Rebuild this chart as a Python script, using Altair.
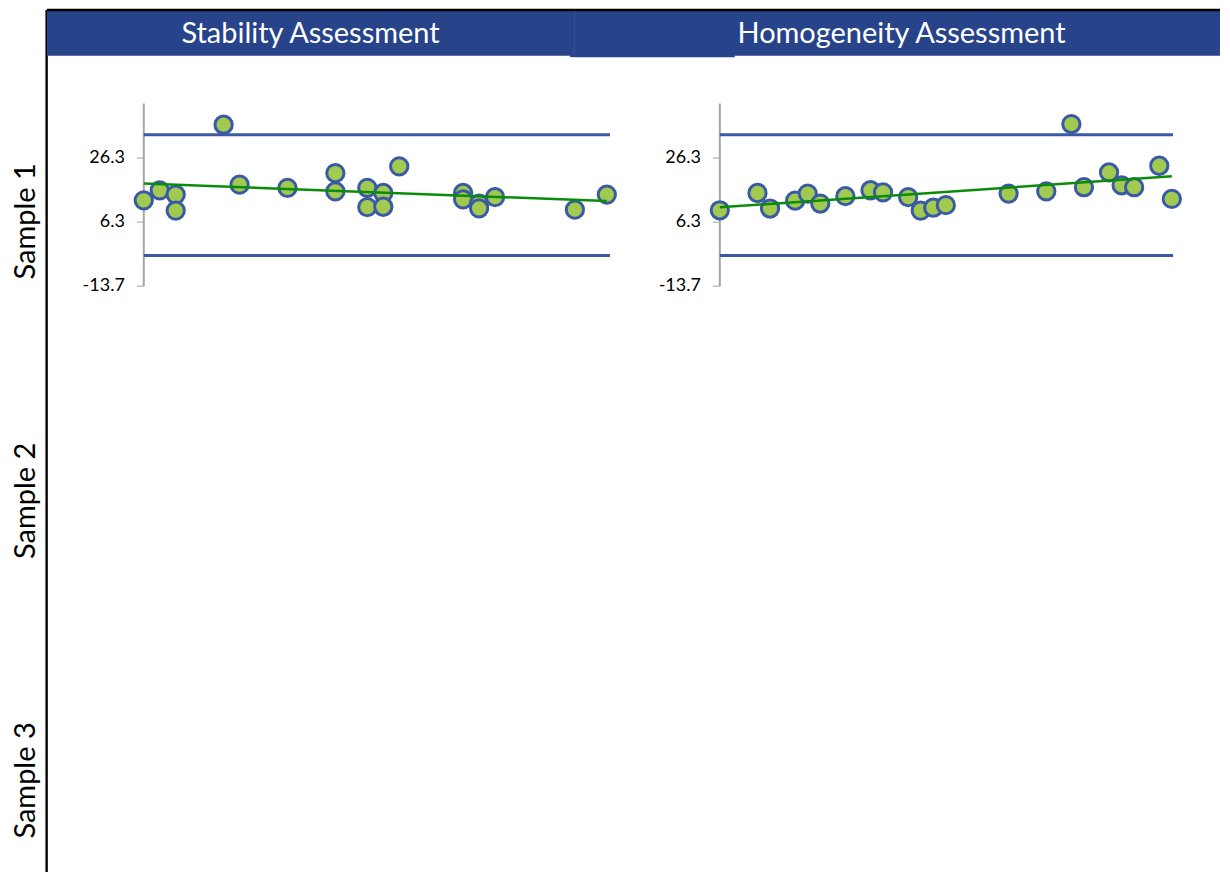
import altair as alt
import pandas as pd

# ---------------- data ----------------
panel_titles = ["Stability Assessment", "Homogeneity Assessment"]
row_labels = ["Sample 1", "Sample 2", "Sample 3"]
row_index = [1, 2, 3]

stab_x = [0, 1, 2, 2, 5, 6, 9, 12, 12, 14, 14, 15, 15, 16, 20, 20, 21, 21, 22, 27, 29]
stab_y = [13.1, 16.2, 14.9, 9.9, 36.7, 18.0, 17.0, 21.6, 15.9, 17.0, 11.0, 15.4, 11.1,
          23.7, 15.4, 13.4, 12.1, 10.6, 14.1, 10.2, 14.9]

homo_x = [0, 3, 4, 6, 7, 8, 10, 12, 13, 15, 16, 17, 18, 23, 26, 28, 29, 31, 32, 33, 35, 36]
homo_y = [10.0, 15.4, 10.55, 13.0, 15.2, 12.1, 14.4, 16.25, 15.6, 14.1, 9.9, 10.8, 11.6,
          15.2, 15.9, 36.9, 17.2, 21.8, 17.8, 17.2, 23.9, 13.55]

control_limits = [33.6, -4.1]
axis_ticks = [26.3, 6.3, -13.7]
axis_tick_labels = ["26.3", "6.3", "-13.7"]
axis_bottom = -13.7
axis_top = 43.3

# ---------------- style / layout ----------------
FONT = "Lato"
BLUE = "#27438A"
LINE_BLUE = "#3A5AA6"
PT_FILL = "#A2CA50"
PT_STROKE = "#3A5AA6"
GREEN = "#0A8C0A"
GRAY = "#A6A6A6"

H = 866
Y_RANGE = [278, 95]          # pixel range of the panel value axis


def column(title, xs, ys, xmax, width, xrange, title_x, extra_band=None):
    df = pd.DataFrame({"x": xs, "y": ys})
    xsc = alt.Scale(domain=[0, xmax], range=xrange, nice=False, zero=False)
    ysc = alt.Scale(domain=[axis_bottom, axis_top], range=Y_RANGE, nice=False, zero=False)
    one = pd.DataFrame({"k": [0]})

    layers = []
    layers.append(alt.Chart(one).mark_rect(color=BLUE).encode(
        x=alt.value(0), x2=alt.value(width), y=alt.value(2), y2=alt.value(47)))
    if extra_band is not None:
        layers.append(alt.Chart(one).mark_rect(color=BLUE).encode(
            x=alt.value(extra_band[0]), x2=alt.value(extra_band[1]),
            y=alt.value(46), y2=alt.value(48.5)))
    layers.append(alt.Chart(one).mark_rule(color="black", strokeWidth=2.4).encode(
        x=alt.value(0), x2=alt.value(width), y=alt.value(1.3)))
    layers.append(alt.Chart(pd.DataFrame({"t": [title]})).mark_text(
        color="white", font=FONT, fontSize=29, align="center", baseline="middle"
    ).encode(text="t:N", x=alt.value(title_x), y=alt.value(25)))

    layers.append(alt.Chart(pd.DataFrame({"x": [0], "y": [axis_bottom], "y2": [axis_top]})).mark_rule(
        color=GRAY, strokeWidth=2
    ).encode(x=alt.X("x:Q", scale=xsc, axis=None),
             y=alt.Y("y:Q", scale=ysc, axis=None), y2="y2:Q"))

    tick_df = pd.DataFrame({"v": axis_ticks, "lab": axis_tick_labels,
                            "x": [0] * len(axis_ticks)})
    layers.append(alt.Chart(tick_df).mark_tick(
        orient="horizontal", size=7, thickness=1.5, color=GRAY, xOffset=-3.5
    ).encode(x=alt.X("x:Q", scale=xsc, axis=None), y=alt.Y("v:Q", scale=ysc, axis=None)))
    layers.append(alt.Chart(tick_df).mark_text(
        align="right", baseline="middle", font=FONT, fontSize=18, color="black", dx=-19
    ).encode(x=alt.X("x:Q", scale=xsc, axis=None), y=alt.Y("v:Q", scale=ysc, axis=None),
             text="lab:N"))

    lim_df = pd.DataFrame({"lim": control_limits, "x": [0] * len(control_limits),
                           "x2": [xmax] * len(control_limits)})
    layers.append(alt.Chart(lim_df).mark_rule(color=LINE_BLUE, strokeWidth=3).encode(
        x=alt.X("x:Q", scale=xsc, axis=None), x2="x2:Q",
        y=alt.Y("lim:Q", scale=ysc, axis=None)))

    layers.append(alt.Chart(df).mark_circle(
        fill=PT_FILL, stroke=PT_STROKE, strokeWidth=3, size=300, opacity=1
    ).encode(x=alt.X("x:Q", scale=xsc, axis=None), y=alt.Y("y:Q", scale=ysc, axis=None)))

    layers.append(alt.Chart(df).transform_regression("x", "y").mark_line(
        color=GREEN, strokeWidth=2.5
    ).encode(x=alt.X("x:Q", scale=xsc, axis=None), y=alt.Y("y:Q", scale=ysc, axis=None)))

    return alt.layer(*layers).properties(width=width, height=H)


# left column: row labels and frame line
one = pd.DataFrame({"k": [0]})
lab_df = pd.DataFrame({"label": row_labels, "r": row_index})
row_txt = alt.Chart(lab_df).mark_text(
    angle=270, font=FONT, fontSize=29, color="black", align="center", baseline="middle"
).encode(
    text="label:N",
    y=alt.Y("r:Q", scale=alt.Scale(domain=[1, 3], range=[213, 773], nice=False, zero=False),
            axis=None),
    x=alt.value(18),
)
left_line = alt.Chart(one).mark_rule(color="black", strokeWidth=2.4).encode(
    x=alt.value(38.7), y=alt.value(1.3), y2=alt.value(H - 1.3))
label_col = alt.layer(row_txt, left_line).properties(width=39, height=H)

stab_col = column(panel_titles[0], stab_x, stab_y, 29.2, 528, [97, 564], 264,
                  extra_band=(524, 528))
homo_col = column(panel_titles[1], homo_x, homo_y, 36.1, 647, [146, 600], 328,
                  extra_band=(0, 161))

chart = alt.hconcat(label_col, stab_col, homo_col, spacing=0, bounds="flush").properties(
    padding=0
).configure_view(stroke=None)

chart.save("out.html", embed_options={"renderer": "svg", "actions": False})
